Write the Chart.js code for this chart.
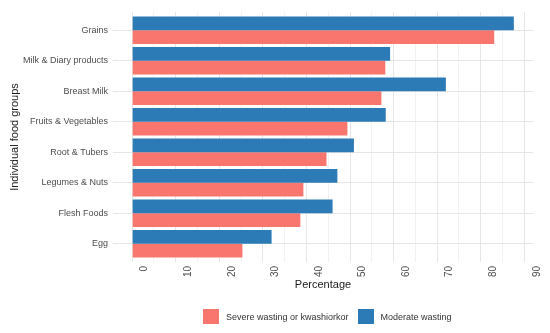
<!DOCTYPE html>
<html>
<head>
<meta charset="utf-8">
<script src="https://cdn.jsdelivr.net/npm/chart.js@4"></script>
<style>
  html, body { margin: 0; padding: 0; background: #fff; }
  #wrap { position: relative; width: 550px; height: 333px; }
  #legend { position: absolute; left: 203px; top: 309px; display: flex; align-items: center;
            font-family: "Liberation Sans", Arial, sans-serif; font-size: 9px; color: #333; }
  .item { display: flex; align-items: center; margin-right: 9px; }
  .sw { width: 16px; height: 15px; margin-right: 7px; }
</style>
</head>
<body>
<div id="wrap">
  <canvas id="c" width="550" height="333"></canvas>
  <div id="legend"></div>
</div>
<script>
const categories = ["Grains", "Milk & Diary products", "Breast Milk", "Fruits & Vegetables",
                    "Root & Tubers", "Legumes & Nuts", "Flesh Foods", "Egg"];
const severeWasting = [83.1, 58.1, 57.2, 49.4, 44.6, 39.3, 38.6, 25.3];
const moderateWasting = [87.6, 59.2, 72.0, 58.2, 50.9, 47.1, 46.0, 32.0];
const xTickValues = [0, 5, 10, 15, 20, 25, 30, 35, 40, 45, 50, 55, 60, 65, 70, 75, 80, 85, 90];
const seriesNames = ["Severe wasting or kwashiorkor", "Moderate wasting"];
const colors = { severe: "#f8766d", moderate: "#2c7bb6" };

const toPoints = arr => arr.map((v, i) => ({ x: v, y: i }));

new Chart(document.getElementById("c"), {
  type: "bar",
  data: {
    datasets: [
      { label: seriesNames[1], data: toPoints(moderateWasting), backgroundColor: colors.moderate,
        categoryPercentage: 0.9, barPercentage: 1.0, borderWidth: 0 },
      { label: seriesNames[0], data: toPoints(severeWasting), backgroundColor: colors.severe,
        categoryPercentage: 0.9, barPercentage: 1.0, borderWidth: 0 }
    ]
  },
  options: {
    indexAxis: "y",
    responsive: false,
    animation: false,
    layout: { padding: { top: 12, right: 17, bottom: 41, left: 0 } },
    plugins: { legend: { display: false }, tooltip: { enabled: false } },
    scales: {
      x: {
        type: "linear",
        min: -4.4, max: 92,
        offset: false,
        afterBuildTicks: s => { s.ticks = xTickValues.map(v => ({ value: v })); },
        afterFit: s => { s.height = 30; },
        grid: {
          offset: false,
          drawTicks: false,
          color: ctx => (ctx.tick && ctx.tick.value % 10 === 0) ? "#e6e6e6" : "#f2f2f2",
          lineWidth: 1
        },
        border: { display: false },
        ticks: {
          autoSkip: false,
          minRotation: 90, maxRotation: 90,
          padding: 4,
          labelOffset: 12.5,
          color: "#4d4d4d",
          font: { family: "Liberation Sans", size: 10 },
          callback: v => (v % 10 === 0 ? String(v) : "")
        },
        title: {
          display: true, text: "Percentage", color: "#1a1a1a",
          font: { family: "Liberation Sans", size: 11 },
          padding: { top: 0, bottom: 0 }
        }
      },
      y: {
        type: "linear",
        min: -0.6, max: 7.6,
        reverse: true,
        offset: false,
        afterBuildTicks: s => { s.ticks = categories.map((c, i) => ({ value: i })); },
        afterFit: s => { s.width = 113; },
        grid: { offset: false, drawTicks: false, color: "#e6e6e6", lineWidth: 1 },
        border: { display: false },
        ticks: {
          autoSkip: false,
          padding: 5,
          color: "#4d4d4d",
          font: { family: "Liberation Sans", size: 9 },
          callback: v => categories[v]
        },
        title: {
          display: true, text: "Individual food groups", color: "#1a1a1a",
          font: { family: "Liberation Sans", size: 11 },
          padding: { top: 8.4, bottom: 0 }
        }
      }
    }
  }
});

const legend = document.getElementById("legend");
[[seriesNames[0], colors.severe], [seriesNames[1], colors.moderate]].forEach(([name, col]) => {
  const it = document.createElement("div");
  it.className = "item";
  const sw = document.createElement("div");
  sw.className = "sw";
  sw.style.background = col;
  const tx = document.createElement("span");
  tx.textContent = name;
  it.appendChild(sw); it.appendChild(tx);
  legend.appendChild(it);
});
</script>
</body>
</html>
